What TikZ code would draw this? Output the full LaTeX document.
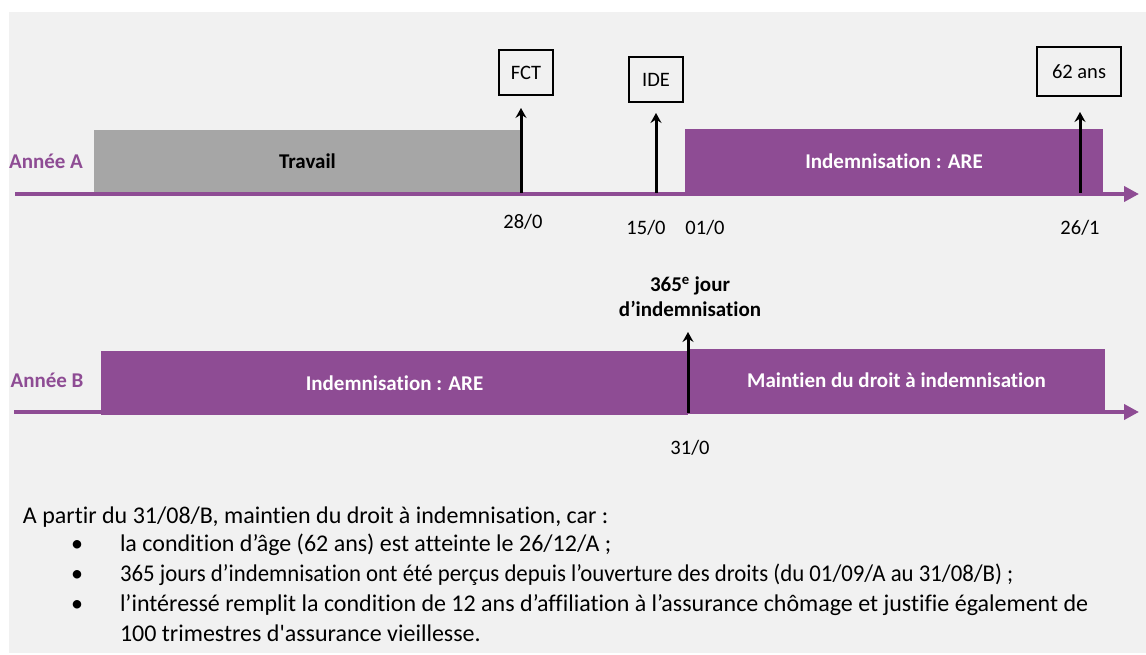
\documentclass[tikz,border=0pt]{standalone}
\usepackage{fontspec}
\newfontfamily\calib{Carlito}[Ligatures=NoCommon]
\usetikzlibrary{arrows.meta}
\definecolor{purp}{HTML}{8E4C94}
\definecolor{panel}{HTML}{F1F1F1}
\definecolor{workgray}{HTML}{A6A6A6}
\tikzset{
  every node/.style={font=\calib\fontsize{20.5}{24}\selectfont, inner sep=0pt, outer sep=0pt},
  boldtxt/.style={font=\calib\bfseries\fontsize{21}{25}\selectfont},
  yearlbl/.style={boldtxt, text=purp},
  workbar/.style={fill=workgray, draw=none, boldtxt, text=black},
  arebar/.style={fill=purp, draw=none, boldtxt, text=white},
  eventbox/.style={draw=black, line width=1.3pt, fill=none},
  axisline/.style={draw=purp, line width=4.5pt, -{Triangle[length=15pt,width=15pt]}},
  uparrow/.style={draw=black, line width=3pt, -{Stealth[length=10pt,width=11pt,inset=3.5pt]}},
  bodytxt/.style={font=\calib\fontsize{24}{30}\selectfont},
}
\begin{document}
\begin{tikzpicture}[x=1pt,y=-1pt]
\useasboundingbox (0,0) rectangle (1146,655);
\fill[panel] (9,12) rectangle (1146,653);

% ---------- Annee A ----------
\node[yearlbl] (anneeA) at (46,161) {Année A};
\node[workbar, minimum width=427pt, minimum height=62pt] (travail) at (307.5,161) {Travail};
\node[arebar, minimum width=418pt, minimum height=64pt] (areA) at (894,161) {Indemnisation : ARE};
\coordinate (axAstart) at (15,194);
\coordinate (axAend) at (1139,194);
\draw[axisline] (axAstart) -- (axAend);

\node[eventbox, minimum width=54pt, minimum height=45pt] (fct) at (526,72.5) {FCT};
\node[eventbox, minimum width=54pt, minimum height=45pt] (ide) at (656,79.5) {IDE};
\node[eventbox, minimum width=84pt, minimum height=49pt] (age) at (1079,71.5) {62 ans};

\coordinate (fctbase) at (521,193);
\coordinate (idebase) at (656,193);
\coordinate (agebase) at (1080,193);
\draw[uparrow, shorten >=13pt] (fctbase) -- (fctbase |- fct.south);
\draw[uparrow, shorten >=11pt] (idebase) -- (idebase |- ide.south);
\draw[uparrow, shorten >=16pt] (agebase) -- (agebase |- age.south);

\node (d28) at (523,222) {28/0};
\node (d15) at (646,228) {15/0};
\node (d01) at (705,228) {01/0};
\node (d26) at (1080,228) {26/1};

% ---------- Annee B ----------
\node[yearlbl] (anneeB) at (47,380) {Année B};
\node[arebar, minimum width=587pt, minimum height=64pt] (areB) at (394.5,383) {Indemnisation : ARE};
\node[arebar, minimum width=417pt, minimum height=63pt] (maintien) at (896.5,380.5) {Maintien du droit à indemnisation};
\coordinate (axBstart) at (14,412);
\coordinate (axBend) at (1139,412);
\draw[axisline] (axBstart) -- (axBend);

\node[boldtxt, align=center] (jour365) at (690,297) {365\textsuperscript{e} jour\\d’indemnisation};
\coordinate (base365) at (688,413);
\coordinate (tip365) at (688,332);
\draw[uparrow] (base365) -- (tip365);
\node (d31) at (690,448) {31/0};

% ---------- Texte ----------
\node[bodytxt, anchor=base west] (intro) at (23,523) {A partir du 31/08/B, maintien du droit à indemnisation, car :};
\node[bodytxt, anchor=base] (b1) at (77,551) {•};
\node[bodytxt, anchor=base] (b2) at (77,581) {•};
\node[bodytxt, anchor=base] (b3) at (77,611) {•};
\node[bodytxt, anchor=base west] (l1) at (120,551) {la condition d’âge (62 ans) est atteinte le 26/12/A ;};
\node[bodytxt, anchor=base west] (l2) at (120,581) {\scalebox{0.95}[1]{365 jours d’indemnisation ont été perçus depuis l’ouverture des droits (du 01/09/A au 31/08/B) ;}};
\node[bodytxt, anchor=base west] (l3) at (120,611) {l’intéressé remplit la condition de 12 ans d’affiliation à l’assurance chômage et justifie également de};
\node[bodytxt, anchor=base west] (l4) at (120,641) {100 trimestres d'assurance vieillesse.};
\end{tikzpicture}
\end{document}
